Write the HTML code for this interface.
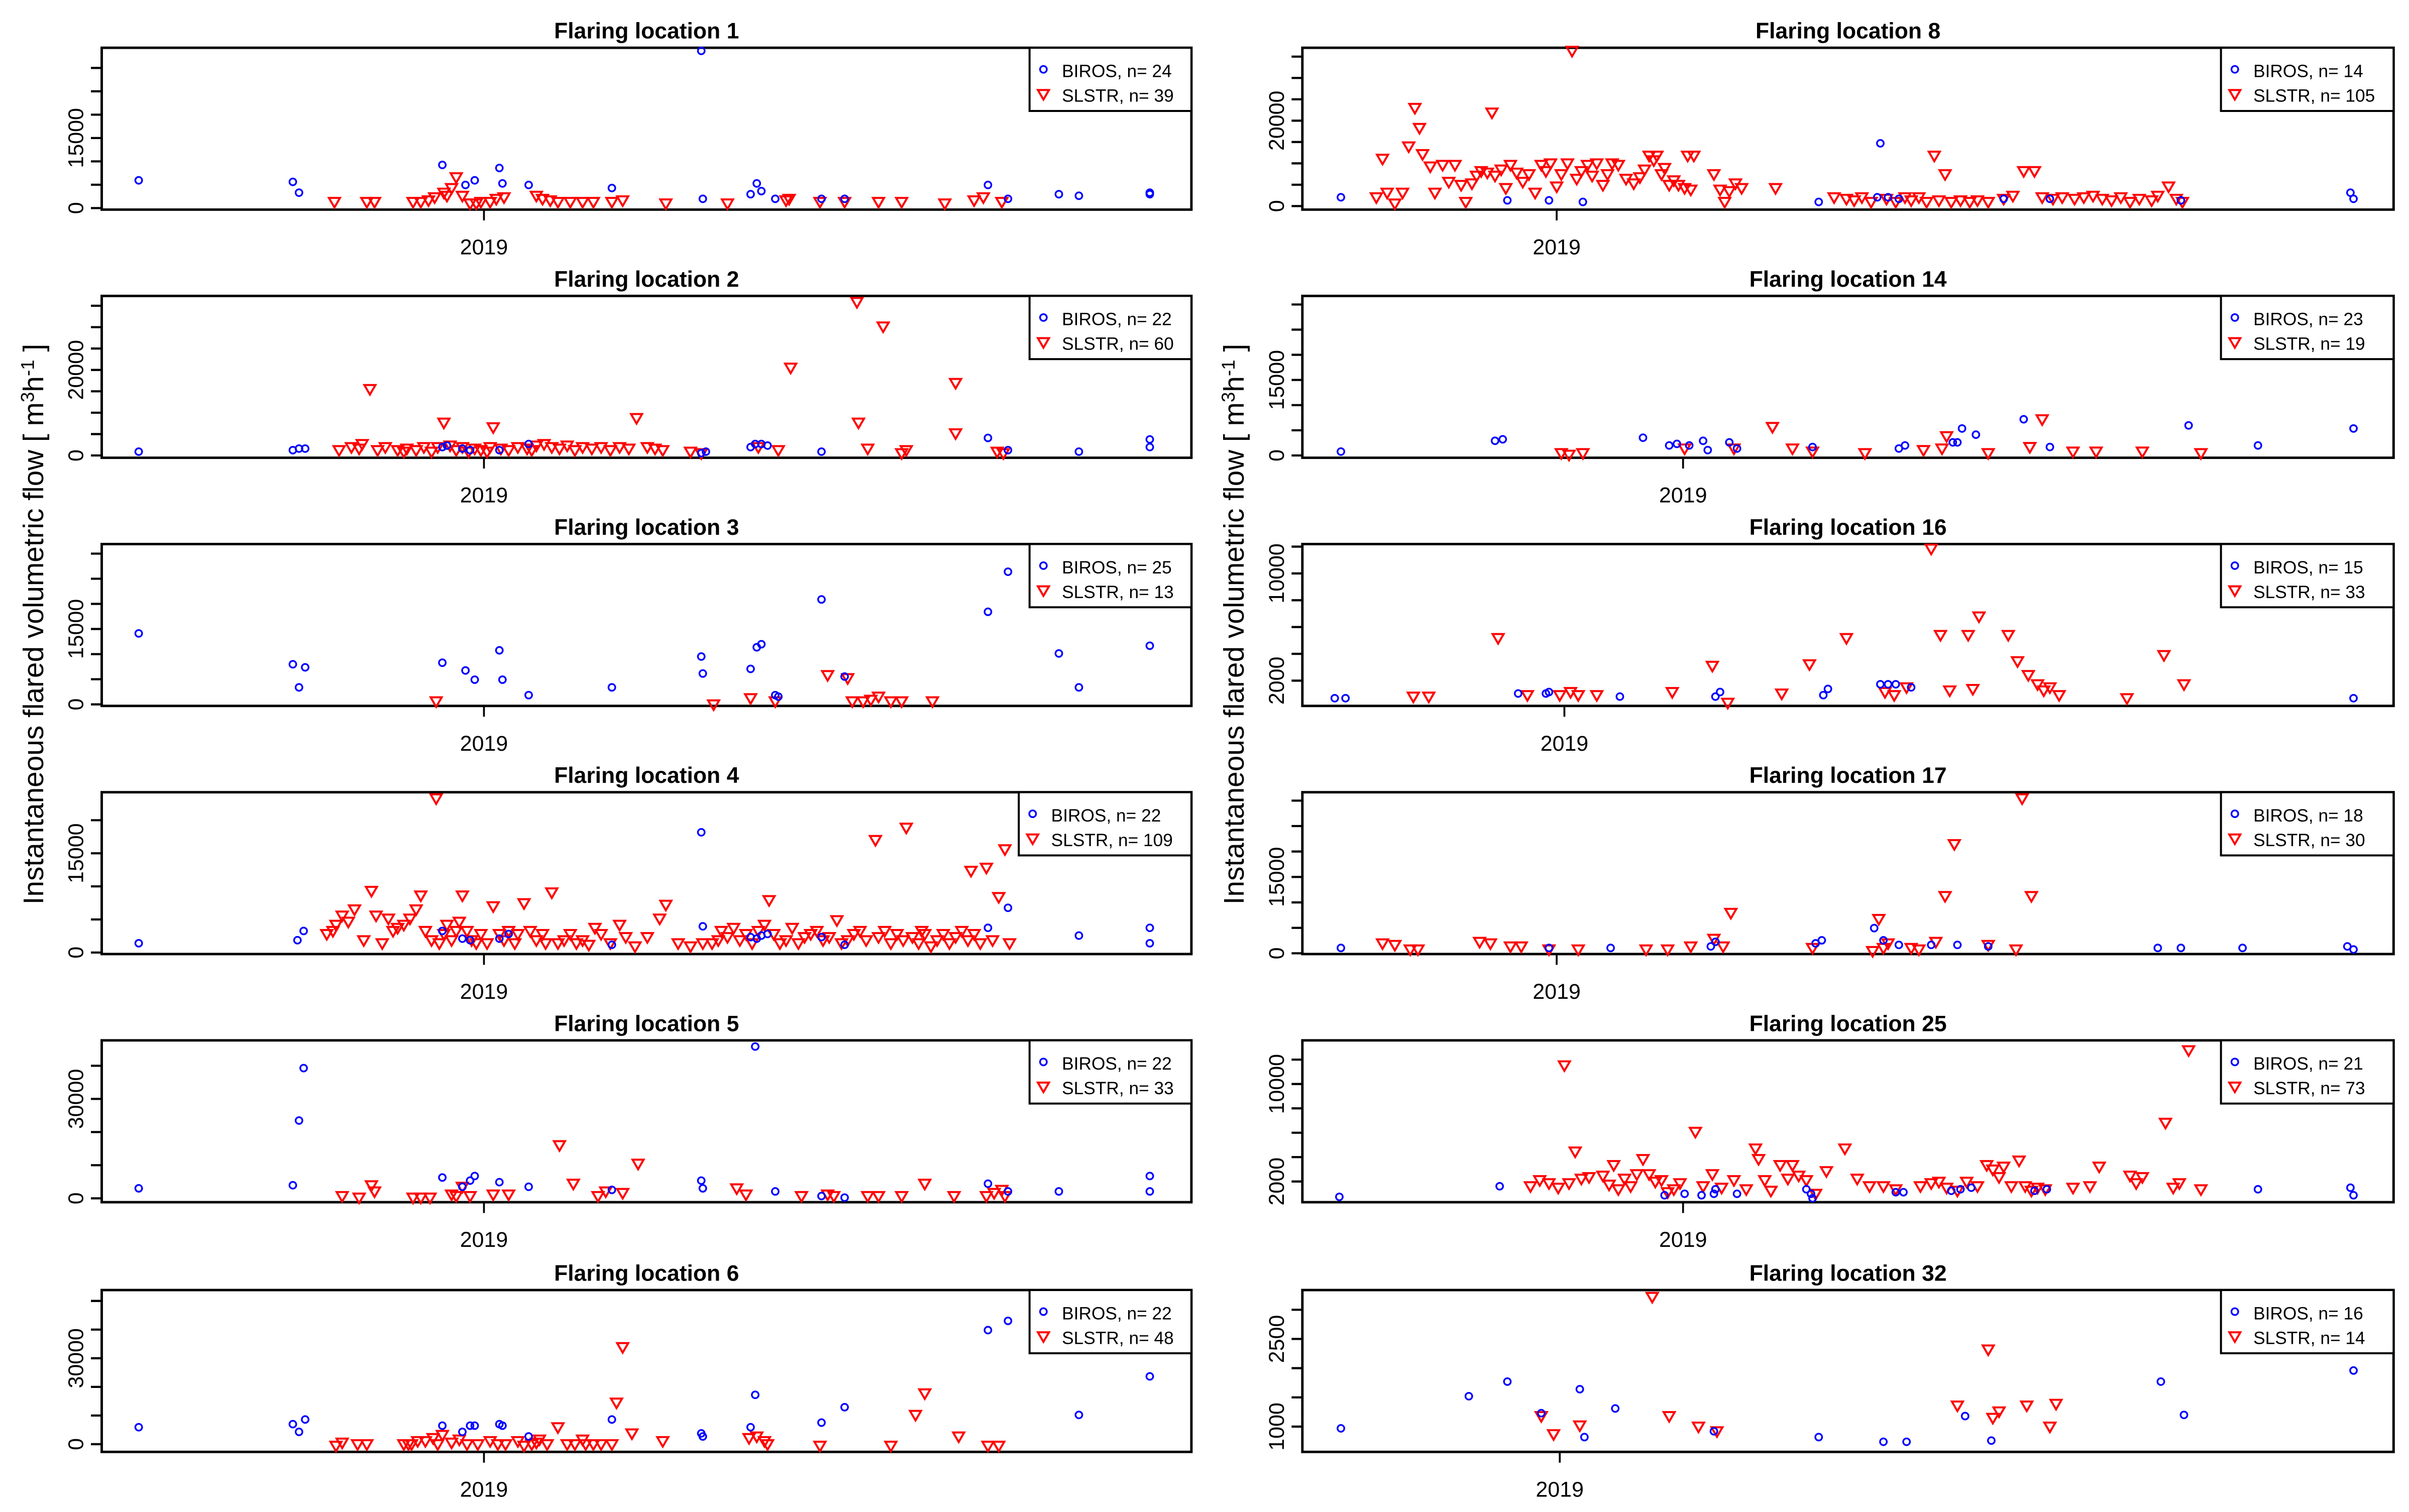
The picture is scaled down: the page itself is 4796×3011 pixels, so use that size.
<!DOCTYPE html>
<html><head><meta charset="utf-8"><style>
html,body{margin:0;padding:0;background:#fff;}
svg{display:block;}
text{font-family:"Liberation Sans",Arial,sans-serif;}
</style></head><body>
<svg id="chart" width="4796" height="3011" viewBox="0 0 1563 981" preserveAspectRatio="none" xmlns="http://www.w3.org/2000/svg">
<rect x="0" y="0" width="1563" height="981" fill="#fff"/>
<text transform="translate(28,405) rotate(-90)" text-anchor="middle" font-size="18.5">Instantaneous flared volumetric flow [ m<tspan dy="-6" font-size="12">3</tspan><tspan dy="6">h</tspan><tspan dy="-6" font-size="12">-1</tspan><tspan dy="6"> ]</tspan></text>
<text transform="translate(807,405) rotate(-90)" text-anchor="middle" font-size="18.5">Instantaneous flared volumetric flow [ m<tspan dy="-6" font-size="12">3</tspan><tspan dy="6">h</tspan><tspan dy="-6" font-size="12">-1</tspan><tspan dy="6"> ]</tspan></text>
</svg>
<script>
// x values: days relative to 2019-01-01; y values: m3/h
const p1BirosX=[-224,-124,-120,-27,-12,-6,10,12,29,83,141,142,173,177,180,189,219,234,327,340,373,386,432,432];
const p1BirosY=[5940,5610,3300,9240,4950,5940,8580,5280,4950,4290,33660,1980,2970,5280,3630,1980,1980,1980,4950,1980,2970,2640,2970,3300];
const p1SlstrX=[-97,-76,-71,-46,-41,-36,-32,-26,-24,-21,-18,-14,-9,-5,-2,4,8,13,34,38,43,48,56,64,71,83,90,118,158,196,198,218,234,256,271,299,318,324,336];
const p1SlstrY=[1320,1320,1320,1320,1320,1650,2310,3300,2640,4290,6600,2640,990,990,1320,1320,1980,2310,2640,1980,1650,1320,1320,1320,1320,1320,1650,990,990,1650,1980,1320,1320,1320,1320,990,1650,2310,1320];

const p2BirosX=[-224,-124,-120,-116,-27,-24,-14,-9,10,29,141,144,173,176,180,184,219,327,340,386,432,432];
const p2BirosY=[890,1250,1610,1610,1960,2320,1610,1250,1250,2680,535,890,1960,2680,2680,2320,890,4100,1250,890,3750,1960];
const p2SlstrX=[-94,-86,-79,-74,-69,-64,-56,-50,-44,-39,-34,-30,-26,-22,-18,-14,-10,-6,-2,4,6,11,16,22,28,34,39,44,49,54,59,64,70,76,82,88,94,99,106,111,116,134,141,178,191,199,242,243,249,259,271,274,306,306,333,337,-81,-52,2,31];
const p2SlstrY=[1250,1960,2680,15530,1250,1960,1250,1610,1250,1960,890,1960,7680,2320,1250,1960,890,1610,1250,1960,6600,1610,1250,1960,1610,2320,2680,1960,1610,2320,1250,1960,1610,1960,1250,1960,1610,8750,1960,1610,1250,890,535,1960,1250,20530,35880,7680,1610,30160,535,1250,16960,5180,890,535,1610,890,890,1250];

const p3BirosX=[-224,-124,-120,-116,-27,-12,-6,10,12,29,83,141,142,173,177,180,189,219,234,327,340,373,386,432,191];
const p3BirosY=[14120,7980,3380,7370,8290,6750,4910,10750,4910,1840,3380,9520,6140,7060,11360,11970,1840,20880,5530,18420,26400,10130,3380,11670,1540];
const p3SlstrX=[-31,149,173,189,223,236,239,246,251,256,264,271,291];
const p3SlstrY=[610,0,1230,610,5830,5220,610,610,920,1540,610,610,610];

const p4BirosX=[-224,-121,-117,-27,-14,-9,10,16,83,141,142,173,177,180,184,219,234,327,340,386,432,432];
const p4BirosY=[1400,1860,3260,3260,2100,1860,2100,2800,1170,18170,3960,2330,2100,2560,2800,2330,1170,3730,6760,2560,3730,1400];
const p4SlstrX=[-102,-96,-92,-84,-78,-73,-70,-66,-59,-56,-52,-48,-44,-41,-38,-34,-31,-29,-26,-24,-21,-18,-16,-14,-11,-8,-5,-2,2,6,10,13,16,20,26,30,34,38,44,48,52,56,60,64,68,72,76,82,88,92,98,114,118,126,134,148,154,158,162,166,170,174,178,182,185,188,192,196,200,204,208,212,216,220,224,229,232,236,240,244,248,254,256,260,264,268,272,274,278,282,286,290,294,298,302,306,310,314,316,318,322,326,330,334,338,341,-98,-88,-62,22,40,106,142,152,284];
const p4SlstrY=[2800,4190,5590,6520,1860,9320,5590,1400,3260,3730,4190,5130,6520,8620,3260,1860,23300,1400,2800,4190,1860,3260,4660,8620,3260,1860,1400,2800,1400,6990,2800,1860,3260,1400,7460,3260,1860,2800,9090,1400,1860,2800,1400,1860,1170,3730,2800,1400,4190,2330,930,5130,7220,1400,930,1400,3260,2330,3730,1860,2800,1400,3260,4190,7920,2800,1400,1860,3730,1400,2330,2800,3260,1860,2330,4890,1400,1860,2800,3260,1860,17010,2330,3260,1400,2800,1860,18870,2330,1400,2800,930,1860,2800,1400,2330,3260,1860,12350,2800,1400,12820,1860,8390,15610,1400,3260,4660,5130,2800,1400,2330,1400,1860,3260];

const p5BirosX=[-224,-124,-120,-117,-27,-14,-9,-6,10,29,83,141,142,176,189,219,234,327,340,373,432,432];
const p5BirosY=[3020,3950,23480,39290,6280,3490,5350,6740,4880,3490,2560,5350,3020,45800,2090,700,230,4420,2090,2090,6740,2090];
const p5SlstrX=[-92,-81,-73,-71,-46,-41,-35,-21,-14,-9,6,16,49,58,74,79,90,100,164,170,206,223,227,249,256,271,286,305,326,331,336,338,-18];
const p5SlstrY=[700,230,3950,2090,230,230,230,1160,3490,700,1160,1160,16040,4420,700,2090,1630,10460,3020,1160,700,1160,700,700,700,700,4420,700,700,1630,2560,700,700];

const p6BirosX=[-224,-124,-120,-116,-27,-14,-9,-6,10,12,29,83,141,142,173,176,219,234,327,340,386,432];
const p6BirosY=[5920,6990,4300,8610,6460,4300,6460,6460,6990,6460,2690,8610,3770,2690,5920,17220,7530,12910,39810,43040,10220,23670];
const p6SlstrX=[-96,-92,-82,-76,-47,-43,-38,-33,-27,-21,-16,-11,-4,4,9,14,22,26,31,36,41,48,54,59,66,71,76,83,86,90,96,116,172,177,182,184,218,264,280,286,308,327,334,34,-52,-30,64,-49];
const p6SlstrY=[-540,540,0,0,0,1080,1080,2150,3230,540,1610,0,0,1080,0,0,1080,-540,0,1610,0,5920,0,0,0,0,0,0,14530,33890,3770,1080,2150,2690,1080,0,-540,-540,10220,17750,2690,-540,-540,540,0,0,1610,0];

const p8BirosX=[-140,-32,-5,17,170,210,208,215,222,290,320,405,515,517];
const p8BirosY=[2060,1340,1340,970,970,14690,2060,2060,1700,1700,1700,1340,3140,1700];
const p8SlstrX=[-117,-113,-110,-105,-100,-96,-92,-89,-87,-82,-79,-74,-70,-66,-62,-59,-55,-52,-49,-45,-42,-40,-36,-33,-30,-26,-22,-18,-14,-10,-7,-4,0,3,7,10,13,16,20,23,26,30,33,36,40,45,50,54,57,60,63,65,68,70,73,76,79,83,85,87,89,102,106,109,112,116,120,142,180,188,193,198,204,214,220,226,230,235,240,245,248,252,256,262,268,273,280,290,296,303,310,315,322,328,336,342,348,354,360,366,372,378,386,390,397,402,406];
const p8SlstrY=[2060,11080,3140,610,3140,13970,22990,18300,12170,9280,3140,9640,5670,9640,4950,970,5310,7110,8190,7830,21910,7110,8560,4220,9640,7830,5670,7470,3140,9640,8190,10000,4590,7470,10000,36350,6390,8190,9640,7110,10000,4950,7470,10000,9640,6390,5310,6750,8560,11800,10720,11800,7470,8920,4950,6030,4950,4220,11800,3860,11800,7470,3860,970,3500,5310,4220,4220,2060,1700,1340,2060,970,1700,970,2060,1340,2060,970,11800,1340,7470,970,1340,970,1340,970,1700,2420,8190,8190,2060,1700,2060,1700,2060,2420,1700,1340,2060,970,1700,1340,2420,4590,1700,970];

const p14BirosX=[-222,-122,-117,-26,-9,-4,4,13,16,30,35,84,140,144,175,178,181,190,221,238,328,373,435];
const p14BirosY=[770,2910,3210,3520,1990,2300,1990,2910,1070,2600,1380,1680,1380,1990,2600,2600,5360,4130,7190,1680,5970,1990,5360];
const p14SlstrX=[-79,-74,-65,1,33,58,71,84,118,156,171,198,225,233,253,268,298,336,168];
const p14SlstrY=[460,150,460,1380,1380,5660,1380,770,460,1070,3830,460,1680,7190,770,770,770,460,1380];

const p16BirosX=[-149,-142,-30,-12,36,98,168,171,205,210,215,225,512,-10,101];
const p16BirosY=[690,690,1040,1040,810,810,920,1380,1730,1730,1730,1500,690,1150,1150];
const p16SlstrX=[-98,-88,-43,-24,-3,4,9,21,70,96,106,141,159,183,208,214,222,238,244,250,262,269,265,288,294,301,307,315,321,365,389,402,311];
const p16SlstrY=[810,810,5180,920,920,1150,920,920,1150,3110,350,1040,3220,5180,1150,920,1500,11850,5410,1270,5410,6790,1380,5410,3450,2420,1730,1500,920,690,3910,1730,1270];

const p17BirosX=[-140,-5,35,100,103,168,172,206,212,222,243,260,280,390,405,445,513,517];
const p17BirosY=[1050,1050,1050,1350,2250,1950,2550,4950,2550,1650,1650,1650,1350,1050,1050,1050,1350,750];
const p17SlstrX=[-113,-105,-95,-90,-50,-43,-30,-23,-5,14,58,72,87,102,108,113,166,205,209,212,230,235,246,252,258,280,298,302,308,215];
const p17SlstrY=[1950,1650,750,750,2250,1950,1350,1350,750,750,750,750,1350,2850,1350,7950,1050,450,6750,1050,1050,750,2250,11250,21450,1650,750,30450,11250,1950];

const p25BirosX=[-223,-119,-12,1,12,35,20,80,84,138,143,174,180,187,228,236,373,433,435,21,83];
const p25BirosY=[740,1610,870,990,870,990,990,1360,620,1120,1120,1240,1360,1490,1240,1360,1360,1490,870,1360,990];
const p25SlstrX=[-99,-93,-87,-81,-77,-74,-70,-66,-61,-52,-48,-45,-42,-38,-34,-30,-26,-22,-18,-14,-10,-6,-2,8,13,19,25,33,41,47,49,53,57,63,68,71,75,80,86,93,105,113,121,130,138,154,161,166,171,178,184,191,197,201,205,208,213,218,222,226,230,235,253,264,270,290,294,298,313,318,322,328,336];
const p25SlstrY=[1610,2110,1860,1490,11530,1860,4460,2230,2360,2480,1740,3350,1360,2230,1610,2600,3840,2600,1980,2110,1120,1360,1860,6080,1610,2600,1490,2110,1360,4710,3840,2110,1240,3350,2230,3350,2480,2110,990,2850,4710,2230,1610,1610,1360,1610,1860,1980,1490,1240,1980,1610,3350,2980,2360,3220,1610,3720,1610,1240,1490,1360,1490,1610,3220,2480,1860,2360,6820,1490,1860,12770,1360];

const p32BirosX=[-142,-59,-34,-12,13,16,36,100,168,210,225,263,280,390,405,515];
const p32BirosY=[970,1520,1770,1230,1640,820,1310,920,820,740,740,1180,760,1770,1200,1960];
const p32SlstrX=[-12,-4,13,60,71,90,102,258,278,281,285,303,318,322];
const p32SlstrY=[1180,870,1020,3220,1180,1000,920,1360,2320,1150,1260,1360,1000,1390];

const panelTitles=["Flaring location 1","Flaring location 2","Flaring location 3","Flaring location 4","Flaring location 5","Flaring location 6","Flaring location 8","Flaring location 14","Flaring location 16","Flaring location 17","Flaring location 25","Flaring location 32"];
const legendBirosN=[24,22,25,22,22,22,14,23,15,18,21,16];
const legendSlstrN=[39,60,13,109,33,48,105,19,33,30,73,14];
const yTickValues=[[0,5000,10000,15000,20000,25000,30000],[0,5000,10000,15000,20000,25000,30000,35000],[0,5000,10000,15000,20000,25000,30000],[0,5000,10000,15000,20000],[0,10000,20000,30000,40000],[0,10000,20000,30000,40000,50000],[0,5000,10000,15000,20000,25000,30000,35000],[0,5000,10000,15000,20000,25000,30000],[2000,4000,6000,8000,10000,12000],[0,5000,10000,15000,20000,25000,30000],[2000,4000,6000,8000,10000,12000],[1000,1500,2000,2500,3000]];
const yTickLabels=[[0,15000],[0,20000],[0,15000],[0,15000],[0,30000],[0,30000],[0,20000],[0,15000],[2000,10000],[0,15000],[2000,10000],[1000,2500]];
const yDomains=[[-330,34320],[-535,37300],[-307,31900],[-233,24230],[-1160,47660],[-2690,53800],[-830,37070],[-460,31700],[115,12190],[-150,31650],[300,13580],[567,3337]];
const xDomains=[[-248,459],[-248,459],[-248,459],[-248,459],[-248,459],[-248,459],[-165,543],[-247,461],[-170,538],[-165,543],[-247,461],[-167,541]];

const P=[[p1BirosX,p1BirosY,p1SlstrX,p1SlstrY],[p2BirosX,p2BirosY,p2SlstrX,p2SlstrY],[p3BirosX,p3BirosY,p3SlstrX,p3SlstrY],[p4BirosX,p4BirosY,p4SlstrX,p4SlstrY],[p5BirosX,p5BirosY,p5SlstrX,p5SlstrY],[p6BirosX,p6BirosY,p6SlstrX,p6SlstrY],[p8BirosX,p8BirosY,p8SlstrX,p8SlstrY],[p14BirosX,p14BirosY,p14SlstrX,p14SlstrY],[p16BirosX,p16BirosY,p16SlstrX,p16SlstrY],[p17BirosX,p17BirosY,p17SlstrX,p17SlstrY],[p25BirosX,p25BirosY,p25SlstrX,p25SlstrY],[p32BirosX,p32BirosY,p32SlstrX,p32SlstrY]];

const NS="http://www.w3.org/2000/svg";
const svg=document.getElementById('chart');
function mk(tag,attrs,parent){const e=document.createElementNS(NS,tag);for(const k in attrs)e.setAttribute(k,attrs[k]);(parent||svg).appendChild(e);return e;}
const rowTops=[31,192,353,514,675,837];
const H=105;
for(let i=0;i<12;i++){
  const col=i<6?0:1;
  const L=col===0?66:845, R=col===0?773:1553;
  const T=rowTops[i%6], B=T+H;
  const g=mk('g',{});
  
  
  const xd=xDomains[i], yd=yDomains[i];
  const sx=v=>L+(v-xd[0])/(xd[1]-xd[0])*(R-L);
  const sy=v=>B-(v-yd[0])/(yd[1]-yd[0])*(B-T);
  const t=mk('text',{x:(L+R)/2,y:T-6,'text-anchor':'middle','font-size':'14.5','font-weight':'bold'},g);
  t.textContent=panelTitles[i];
  
  
  const box=mk('rect',{x:L,y:T,width:R-L,height:H,fill:'none',stroke:'#000','stroke-width':1.6},g);
  
  
  yTickValues[i].forEach(v=>{
    const y=sy(v);
    const tk=mk('line',{x1:L-7,x2:L,y1:y,y2:y,stroke:'#000','stroke-width':1.4},g);
    
    
  });
  yTickLabels[i].forEach(v=>{
    const y=sy(v);
    const tl=mk('text',{transform:`translate(${L-12},${y}) rotate(-90)`,'text-anchor':'middle','font-size':'14'},g);
    tl.textContent=String(v);
    
    
  });
  const x19=sx(0);
  const xt=mk('line',{x1:x19,x2:x19,y1:B,y2:B+7,stroke:'#000','stroke-width':1.2},g);
  
  
  const xl=mk('text',{x:x19,y:B+29,'text-anchor':'middle','font-size':'14'},g);
  xl.textContent='2019';
  
  
  const [bx,by,slx,sly]=P[i];
  slx.forEach((v,j)=>{
    const x=sx(v),y=sy(sly[j]);
    const tr=mk('polygon',{points:`${x-3.6},${y-2.6} ${x+3.6},${y-2.6} ${x},${y+3.6}`,fill:'none',stroke:'#ff0000','stroke-width':1.3},g);
    
    
  });
  bx.forEach((v,j)=>{
    const c=mk('circle',{cx:sx(v),cy:sy(by[j]),r:2.2,fill:'none',stroke:'#0000ff','stroke-width':1.1},g);
    
    
  });
  const wide=(legendSlstrN[i]>=100);
  const lx=col===0?(wide?661:668):1441;
  const lg=mk('g',{},g);
  
  
  mk('rect',{x:lx,y:T,width:R-lx,height:41,fill:'#fff',stroke:'#000','stroke-width':1.3},lg);
  mk('circle',{cx:lx+9,cy:T+14,r:2.2,fill:'none',stroke:'#0000ff','stroke-width':1.1},lg);
  const ly=T+30;
  mk('polygon',{points:`${lx+5.4},${ly-2.6} ${lx+12.6},${ly-2.6} ${lx+9},${ly+3.6}`,fill:'none',stroke:'#ff0000','stroke-width':1.3},lg);
  const t1=mk('text',{x:lx+21,y:T+19,'font-size':'11.5'},lg);
  t1.textContent='BIROS, n= '+legendBirosN[i];
  
  
  const t2=mk('text',{x:lx+21,y:T+35,'font-size':'11.5'},lg);
  t2.textContent='SLSTR, n= '+legendSlstrN[i];
  
  
}
</script>
</body></html>
